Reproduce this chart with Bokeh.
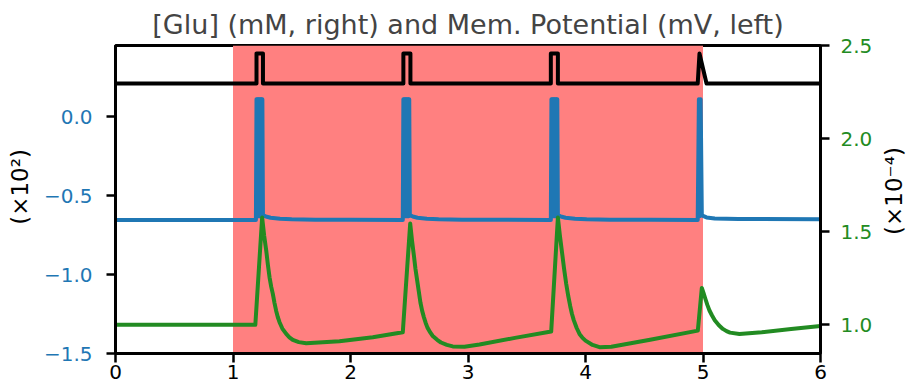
from bokeh.plotting import figure
from bokeh.layouts import row
from bokeh.models import Range1d, LinearAxis, FixedTicker, BoxAnnotation, Spacer
from bokeh.embed import file_html
from bokeh.resources import INLINE

TITLE = "[Glu] (mM, right) and Mem. Potential (mV, left)"
x_ticks = [0, 1, 2, 3, 4, 5, 6]
x_tick_labels = ["0", "1", "2", "3", "4", "5", "6"]
left_ticks = [-1.5, -1.0, -0.5, 0.0]
left_tick_labels = ["\u22121.5", "\u22121.0", "\u22120.5", "0.0"]
right_ticks = [1.0, 1.5, 2.0, 2.5]
right_tick_labels = ["1.0", "1.5", "2.0", "2.5"]
left_label = "(\u00d710\u00b2)"
right_label = "(\u00d710\u207b\u2074)"
stim_window = [1.0, 5.0]

# stimulus trace (left axis, x10^2)
stim_t = [0.0, 1.2, 1.2, 1.255, 1.255, 2.45, 2.45, 2.51, 2.51,
          3.705, 3.705, 3.765, 3.765, 4.955, 4.97, 5.03, 6.0]
stim_v = [0.21, 0.21, 0.40, 0.40, 0.21, 0.21, 0.40, 0.40, 0.21,
          0.21, 0.40, 0.40, 0.21, 0.21, 0.40, 0.21, 0.21]

# membrane potential (mV / 100, left axis)
vm_t = [0.0, 1.19, 1.195,
        1.200, 1.205, 1.210, 1.215, 1.220, 1.225, 1.230, 1.235, 1.240, 1.245, 1.250, 1.255,
        1.28, 1.32, 1.40, 1.50, 1.70, 2.00, 2.44, 2.445,
        2.450, 2.455, 2.460, 2.465, 2.470, 2.475, 2.480, 2.485, 2.490, 2.495, 2.500, 2.505,
        2.53, 2.57, 2.65, 2.75, 2.95, 3.30, 3.70, 3.705,
        3.710, 3.715, 3.720, 3.725, 3.730, 3.735, 3.740, 3.745, 3.750, 3.755, 3.760, 3.765,
        3.79, 3.83, 3.91, 4.01, 4.21, 4.55, 4.955,
        4.965, 4.972, 4.980, 4.990,
        5.00, 5.03, 5.10, 5.30, 6.00]
vm_v = [-0.655, -0.655, -0.655,
        0.11, -0.63, 0.11, -0.63, 0.11, -0.63, 0.11, -0.63, 0.11, -0.63, 0.11, -0.625,
        -0.632, -0.640, -0.647, -0.650, -0.652, -0.653, -0.654, -0.654,
        0.11, -0.63, 0.11, -0.63, 0.11, -0.63, 0.11, -0.63, 0.11, -0.63, 0.11, -0.625,
        -0.632, -0.640, -0.647, -0.650, -0.652, -0.653, -0.654, -0.654,
        0.11, -0.63, 0.11, -0.63, 0.11, -0.63, 0.11, -0.63, 0.11, -0.63, 0.11, -0.625,
        -0.632, -0.640, -0.647, -0.650, -0.652, -0.653, -0.654,
        0.11, -0.63, 0.11, -0.625,
        -0.628, -0.638, -0.645, -0.648, -0.649]

# glutamate concentration (mM x10^-4, right axis)
glu_t = [0.0, 1.19, 1.248, 1.265, 1.283, 1.297, 1.311, 1.325, 1.339, 1.353, 1.367, 1.381,
         1.396, 1.42, 1.453, 1.48, 1.509, 1.56, 1.623,
         1.906, 2.19, 2.445,
         2.508, 2.524, 2.54, 2.553, 2.567, 2.581, 2.595, 2.61, 2.625, 2.64, 2.655, 2.68,
         2.70, 2.74, 2.77, 2.82, 2.87, 2.97, 3.098, 3.40, 3.708,
         3.765, 3.782, 3.80, 3.818, 3.836, 3.853, 3.87, 3.885, 3.90, 3.925, 3.949, 3.975,
         4.00, 4.06, 4.119, 4.22, 4.55, 4.956,
         4.99, 5.005, 5.02, 5.037, 5.055, 5.077, 5.10, 5.135, 5.169, 5.20, 5.23, 5.31,
         5.50, 5.75, 6.0]
glu_v = [1.0, 1.0, 1.576, 1.48, 1.398, 1.322, 1.255, 1.205, 1.166, 1.118, 1.076, 1.042,
         1.014, 0.980, 0.951, 0.933, 0.919, 0.907, 0.901,
         0.912, 0.933, 0.960,
         1.544, 1.45, 1.37, 1.30, 1.24, 1.18, 1.12, 1.075, 1.04, 1.01, 0.985, 0.958,
         0.940, 0.918, 0.905, 0.892, 0.884, 0.882, 0.894, 0.930, 0.964,
         1.576, 1.48, 1.39, 1.30, 1.219, 1.155, 1.10, 1.058, 1.025, 0.983, 0.951, 0.930,
         0.915, 0.892, 0.880, 0.882, 0.920, 0.969,
         1.198, 1.17, 1.14, 1.107, 1.077, 1.05, 1.025, 0.998, 0.978, 0.966, 0.958, 0.951,
         0.960, 0.977, 0.994]

FONT = "DejaVu Sans"
BLUE = "#1f77b4"
GREEN = "#228b22"
TOTAL_H = 381

p = figure(frame_width=705, frame_height=308, x_range=Range1d(0, 6), y_range=Range1d(-1.5, 0.451),
           output_backend="svg", toolbar_location=None, title=TITLE,
           min_border_left=77, min_border_right=57, min_border_top=37, min_border_bottom=36)
p.extra_y_ranges = {"glu": Range1d(0.846, 2.5)}
raxis = LinearAxis(y_range_name="glu")
p.add_layout(raxis, "right")

p.grid.visible = False
p.outline_line_color = "black"
p.outline_line_width = 3
p.outline_line_alpha = 1.0
p.background_fill_color = "white"
p.border_fill_color = "white"

p.title.text_font = FONT
p.title.text_font_size = "27px"
p.title.text_font_style = "normal"
p.title.align = "center"
p.title.standoff = 12

def style(ax, ticks, labels, color):
    ax.ticker = FixedTicker(ticks=ticks)
    ax.major_label_overrides = {t: l for t, l in zip(ticks, labels)}
    ax.minor_tick_line_color = None
    ax.major_tick_out = 9
    ax.major_tick_in = 0
    ax.major_tick_line_width = 2.5
    ax.axis_line_width = 3
    ax.major_label_text_font = FONT
    ax.major_label_text_font_size = "20px"
    ax.major_label_text_color = color

xaxis = p.xaxis[0]
style(xaxis, x_ticks, x_tick_labels, "black")
xaxis.major_label_standoff = 2

laxis = p.yaxis[0]
style(laxis, left_ticks, left_tick_labels, BLUE)
laxis.major_label_standoff = 14

style(raxis, right_ticks, right_tick_labels, GREEN)
raxis.major_label_standoff = 11

p.add_layout(BoxAnnotation(left=stim_window[0], right=stim_window[1], fill_color="#ff8080",
                           fill_alpha=1.0, line_color=None, level="underlay"))

p.line(stim_t, stim_v, line_color="black", line_width=4, line_join="round")
p.line(vm_t, vm_v, line_color=BLUE, line_width=4, line_join="round")
p.line(glu_t, glu_v, line_color=GREEN, line_width=4, line_join="round", y_range_name="glu")


def label_strip(text, standoff, frame_h):
    """Narrow blank panel whose only content is a vertical (bottom-to-top) axis title."""
    q = figure(frame_width=1, frame_height=frame_h, x_range=Range1d(0, 1), y_range=Range1d(0, 1),
               output_backend="svg", toolbar_location=None,
               min_border_left=0, min_border_right=0, min_border_top=37,
               min_border_bottom=TOTAL_H - 37 - frame_h)
    q.xaxis.visible = False
    q.grid.visible = False
    q.outline_line_color = None
    q.background_fill_color = "white"
    q.border_fill_color = "white"
    ax = q.yaxis[0]
    ax.ticker = FixedTicker(ticks=[])
    ax.minor_tick_line_color = None
    ax.major_tick_line_color = None
    ax.major_tick_out = 0
    ax.major_tick_in = 0
    ax.axis_line_color = None
    ax.major_label_standoff = 0
    ax.axis_label = text
    ax.axis_label_standoff = standoff
    ax.axis_label_text_font = FONT
    ax.axis_label_text_font_size = "23px"
    ax.axis_label_text_font_style = "normal"
    ax.axis_label_text_color = "black"
    return q

left_strip = label_strip(left_label, 5, 283)
right_strip = label_strip(right_label, 2, 291)

layout = row(Spacer(width=3, height=TOTAL_H), left_strip, p, right_strip)

open("out.html", "w").write(file_html(layout, INLINE))
